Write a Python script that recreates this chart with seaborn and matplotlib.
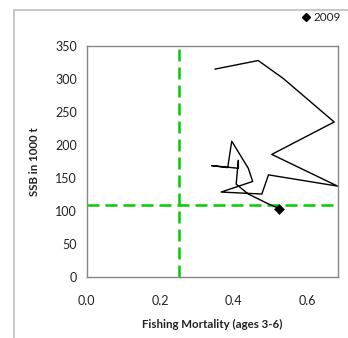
import matplotlib
matplotlib.use("Agg")
import matplotlib.pyplot as plt
from matplotlib.lines import Line2D
import seaborn as sns
import pandas as pd

# Stock trajectory (F, SSB)
fishing_mortality = [0.349, 0.467, 0.535, 0.674, 0.504, 0.683, 0.495, 0.477, 0.366,
                     0.452, 0.440, 0.395, 0.384, 0.340, 0.413, 0.413, 0.407, 0.440,
                     0.495, 0.524]
ssb = [315, 328, 301, 235, 186, 138, 155, 126, 129,
       145, 165, 206, 166, 169, 165, 177, 141, 126,
       111, 104]
last_label = "2009"
f_ref = 0.25
ssb_ref = 110

x_ticks = [0.0, 0.2, 0.4, 0.6]
y_ticks = [0, 50, 100, 150, 200, 250, 300, 350]

df = pd.DataFrame({"F": fishing_mortality, "SSB": ssb})
df_last = df.iloc[[-1]].assign(label=last_label)

sns.set_style("white")
plt.rcParams["font.family"] = ["Lato", "DejaVu Sans"]

W, H = 348, 338
fig = plt.figure(figsize=(W / 100, H / 100), dpi=100)
left, right, top, bottom = 86.7, 337.5, 46.0, 277.3
ax = fig.add_axes([left / W, 1 - bottom / H, (right - left) / W, (bottom - top) / H])

green = "#00CC00"
ax.axvline(f_ref, color=green, lw=1.8, dashes=(4.8, 2.4), zorder=1)
ax.axhline(ssb_ref, color=green, lw=1.8, dashes=(4.8, 2.4), zorder=1)

sns.lineplot(data=df, x="F", y="SSB", sort=False, estimator=None, color="black",
             lw=1.0, ax=ax, zorder=2)
sns.scatterplot(data=df_last, x="F", y="SSB", marker="D", color="black", s=26,
                edgecolor="black", ax=ax, zorder=3, label=last_label, legend=False)

ax.set_xlim(0, 0.683)
ax.set_ylim(0, 350)
ax.set_xticks(x_ticks)
ax.set_xticklabels([f"{t:.1f}" for t in x_ticks])
ax.set_yticks(y_ticks)
ax.set_yticklabels([str(t) for t in y_ticks])

for s in ax.spines.values():
    s.set_color("#868686")
    s.set_linewidth(1.0)
ax.tick_params(axis="both", direction="out", length=4, width=0.8, color="#868686",
               labelsize=9, labelcolor="#222222", pad=3)
ax.tick_params(axis="x", pad=9)

ax.set_xlabel("Fishing Mortality (ages 3-6)", fontsize=8.3, fontweight="bold",
              color="#222222", labelpad=8)
ax.set_ylabel("SSB in 1000 t", fontsize=8.3, fontweight="bold", color="#222222",
              labelpad=11)

handle = Line2D([], [], marker="D", color="black", linestyle="none", markersize=4.5)
fig.legend([handle], [last_label], loc="upper right", bbox_to_anchor=(1.0, 0.985),
           frameon=False, fontsize=8.5, handlelength=0.8, handletextpad=0.2,
           borderaxespad=0.2, labelcolor="#222222")

# outer chart-area frame (top and left edges)
frame_c = "#BFBFBF"
fig.add_artist(Line2D([14 / W, 14 / W], [0, 1 - 9.5 / H], transform=fig.transFigure,
                      color=frame_c, lw=1.2))
fig.add_artist(Line2D([14 / W, 1], [1 - 9.5 / H, 1 - 9.5 / H], transform=fig.transFigure,
                      color=frame_c, lw=1.2))

fig.savefig("out.png", dpi=100)
